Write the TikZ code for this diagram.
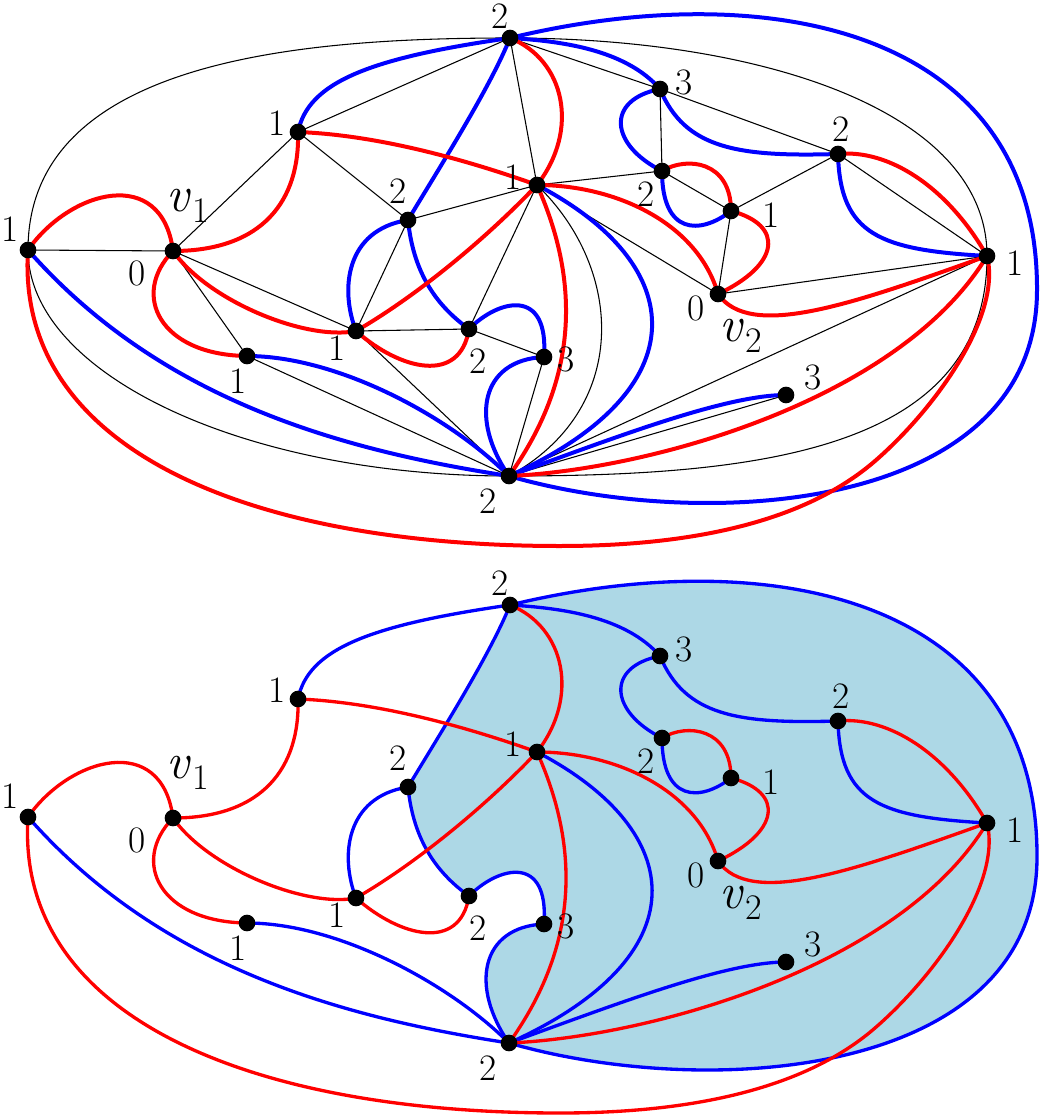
\documentclass[tikz,border=0pt]{standalone}
\usepackage{fontspec}
\definecolor{shadeblue}{RGB}{173,216,230}
\tikzset{
  blk/.style={draw=black, line width=0.8pt},
  redc/.style={draw=red, line width=\cw, line cap=round},
  bluec/.style={draw=blue, line width=\cw, line cap=round},
  dot/.style={circle, fill=black, inner sep=0pt, minimum size=12.5pt},
  lbl/.style={font=\fontsize{28}{32}\selectfont, inner sep=0pt},
  vlbl/.style={font=\fontsize{38}{42}\selectfont, inner sep=0pt}
}
\def\cw{3pt}
\newcommand{\vsub}[1]{\textit{v}\kern0.02em\raisebox{-0.22em}{\fontsize{27}{30}\selectfont #1}}
\newcommand{\placepts}[2]{%
\begin{scope}[shift={(0,#2)}]
\coordinate (#1L) at (28,250);
\coordinate (#1Vo) at (173,251);
\coordinate (#1A) at (298,132);
\coordinate (#1T) at (510,38);
\coordinate (#1B) at (408,220);
\coordinate (#1C) at (537,185);
\coordinate (#1D) at (660,89);
\coordinate (#1E) at (662,171);
\coordinate (#1F) at (731,211);
\coordinate (#1G) at (838,154);
\coordinate (#1R) at (987,256);
\coordinate (#1Vt) at (718,294);
\coordinate (#1H) at (356,331);
\coordinate (#1I) at (469,329);
\coordinate (#1J) at (544,357);
\coordinate (#1K) at (247,356);
\coordinate (#1Bo) at (509,476);
\coordinate (#1M) at (786,395);
\coordinate (#1P) at (560,546);
\coordinate (#1S) at (875,461);
\coordinate (#1Q) at (1037,290);
\end{scope}}
\newcommand{\colcurves}[1]{%
\draw[bluec] (#1L) .. controls +(132,150) and +(-169,-26) .. (#1Bo);
\draw[bluec] (#1K) .. controls +(90,0) and +(-60,-60) .. (#1Bo);
\draw[bluec] (#1A) .. controls +(10,-50) and +(-140,20) .. (#1T);
\draw[bluec] (#1T) .. controls +(-20,50) and +(30,-50) .. (#1B);
\draw[bluec] (#1B) .. controls +(-63,10) and +(-16,-41) .. (#1H);
\draw[bluec] (#1B) .. controls +(5,50) and +(-35,-25) .. (#1I);
\draw[bluec] (#1I) .. controls +(30,-30) and +(5,-70) .. (#1J);
\draw[bluec] (#1J) .. controls +(-64,3) and +(-39,-56) .. (#1Bo);
\draw[bluec] (#1C) .. controls +(153,80) and +(191,-86) .. (#1Bo);
\draw[bluec] (#1T) .. controls +(50,3) and +(-35,-40) .. (#1D);
\draw[bluec] (#1D) .. controls +(-55,11) and +(-52,-26) .. (#1E);
\draw[bluec] (#1D) .. controls +(25,60) and +(-100,3) .. (#1G);
\draw[bluec] (#1E) .. controls +(0,64) and +(-31,24) .. (#1F);
\draw[bluec] (#1G) .. controls +(2,81) and +(-107,-6) .. (#1R);
\draw[bluec] (#1T) .. controls +(260,-63) and +(1,-260) .. (#1Q) .. controls +(0,220) and +(201,58) .. (#1Bo);
\draw[bluec] (#1M) .. controls +(-60,0) and +(110,-40) .. (#1Bo);
\draw[redc] (#1L) .. controls +(42,-60) and +(-11,-86) .. (#1Vo);
\draw[redc] (#1L) .. controls +(-13,200) and +(-310,0) .. (#1P)
   .. controls +(120,0) and +(-75,65) .. (#1S)
   .. controls +(60,-52) and +(15,60) .. (#1R);
\draw[redc] (#1Vo) .. controls +(90,0) and +(2,68) .. (#1A);
\draw[redc] (#1A) .. controls +(80,3) and +(-70,-25) .. (#1C);
\draw[redc] (#1T) .. controls +(55,22) and +(43,-55) .. (#1C);
\draw[redc] (#1C) .. controls +(-57,60) and +(54,-31) .. (#1H);
\draw[redc] (#1C) .. controls +(38,85) and +(76,-106) .. (#1Bo);
\draw[redc] (#1C) .. controls +(80,0) and +(-20,-70) .. (#1Vt);
\draw[redc] (#1F) .. controls +(54,14) and +(62,-29) .. (#1Vt);
\draw[redc] (#1E) .. controls +(25,-15) and +(0,-50) .. (#1F);
\draw[redc] (#1G) .. controls +(50,-5) and +(-40,-70) .. (#1R);
\draw[redc] (#1Vt) .. controls +(32,46) and +(-137,49) .. (#1R);
\draw[redc] (#1R) .. controls +(-87,144) and +(141,-6) .. (#1Bo);
\draw[redc] (#1Vo) .. controls +(35,50) and +(-50,10) .. (#1H);
\draw[redc] (#1Vo) .. controls +(-43,44) and +(-87,-1) .. (#1K);
\draw[redc] (#1H) .. controls +(44,39) and +(-9,56) .. (#1I);
}
\newcommand{\placedots}[1]{%
\foreach \n in {L,Vo,A,T,B,C,D,E,F,G,R,Vt,H,I,J,K,Bo,M}{\node[dot] (#1\n d) at (#1\n) {};}}
\newcommand{\placelabels}[1]{%
\node[lbl] (#1Ll) at ([shift={(-18,-21)}]#1L) {1};
\node[vlbl] (#1Vov) at ([shift={(15,-45)}]#1Vo) {\vsub{1}};
\node[lbl] (#1Vol) at ([shift={(-36,22)}]#1Vo) {0};
\node[lbl] (#1Al) at ([shift={(-21,-9)}]#1A) {1};
\node[lbl] (#1Tl) at ([shift={(-10,-22)}]#1T) {2};
\node[lbl] (#1Bl) at ([shift={(-10,-29)}]#1B) {2};
\node[lbl] (#1Cl) at ([shift={(-24,-8)}]#1C) {1};
\node[lbl] (#1Dl) at ([shift={(24,-7)}]#1D) {3};
\node[lbl] (#1El) at ([shift={(-16,23)}]#1E) {2};
\node[lbl] (#1Fl) at ([shift={(40,4)}]#1F) {1};
\node[lbl] (#1Gl) at ([shift={(3,-25)}]#1G) {2};
\node[lbl] (#1Rl) at ([shift={(28,7)}]#1R) {1};
\node[lbl] (#1Vtl) at ([shift={(-22,14)}]#1Vt) {0};
\node[vlbl] (#1Vtv) at ([shift={(23,42)}]#1Vt) {\vsub{2}};
\node[lbl] (#1Hl) at ([shift={(-19,17)}]#1H) {1};
\node[lbl] (#1Il) at ([shift={(9,32)}]#1I) {2};
\node[lbl] (#1Jl) at ([shift={(22,2)}]#1J) {3};
\node[lbl] (#1Kl) at ([shift={(-9,25)}]#1K) {1};
\node[lbl] (#1Bol) at ([shift={(-21,25)}]#1Bo) {2};
\node[lbl] (#1Ml) at ([shift={(27,-18)}]#1M) {3};
}
\begin{document}
\begin{tikzpicture}[x=0.75pt,y=-0.75pt]
\useasboundingbox (0,0) rectangle (1040,1116);
\placepts{t}{0}
\placepts{b}{567}
% ---------- top panel: black triangulation ----------
\draw[blk] (tL) .. controls +(0,-190) and +(-210,0) .. (tT);
\draw[blk] (tT) .. controls +(250,0) and +(0,-146) .. (tR);
\draw[blk] (tR) .. controls +(0,194) and +(251,0) .. (tBo);
\draw[blk] (tL) .. controls +(0,124) and +(-265,0) .. (tBo);
\draw[blk] (tC) .. controls +(88,85) and +(121,-66) .. (tBo);
\draw[blk] (tL) -- (tVo) (tVo) -- (tA) (tA) -- (tT) (tA) -- (tB) (tB) -- (tC)
  (tT) -- (tC) (tT) -- (tD) (tD) -- (tE) (tD) -- (tG) (tE) -- (tC) (tE) -- (tF)
  (tF) -- (tG) (tG) -- (tR) (tF) -- (tVt) (tC) -- (tVt) (tVt) -- (tR)
  (tVo) -- (tH) (tVo) -- (tK) (tB) -- (tH) (tH) -- (tI) (tI) -- (tJ) (tI) -- (tC)
  (tH) -- (tBo) (tK) -- (tBo) (tJ) -- (tBo) (tR) -- (tBo) (tM) -- (tBo);
\def\cw{3pt}
\colcurves{t}
\placedots{t}
\placelabels{t}
% ---------- bottom panel ----------
\fill[shadeblue] (bT) .. controls +(-20,50) and +(30,-50) .. (bB)
  .. controls +(5,50) and +(-35,-25) .. (bI)
  .. controls +(30,-30) and +(5,-70) .. (bJ)
  .. controls +(-64,3) and +(-39,-56) .. (bBo)
  .. controls +(201,58) and +(0,220) .. (bQ)
  .. controls +(1,-260) and +(260,-63) .. (bT) -- cycle;
\def\cw{2.5pt}
\colcurves{b}
\placedots{b}
\placelabels{b}
\end{tikzpicture}
\end{document}
